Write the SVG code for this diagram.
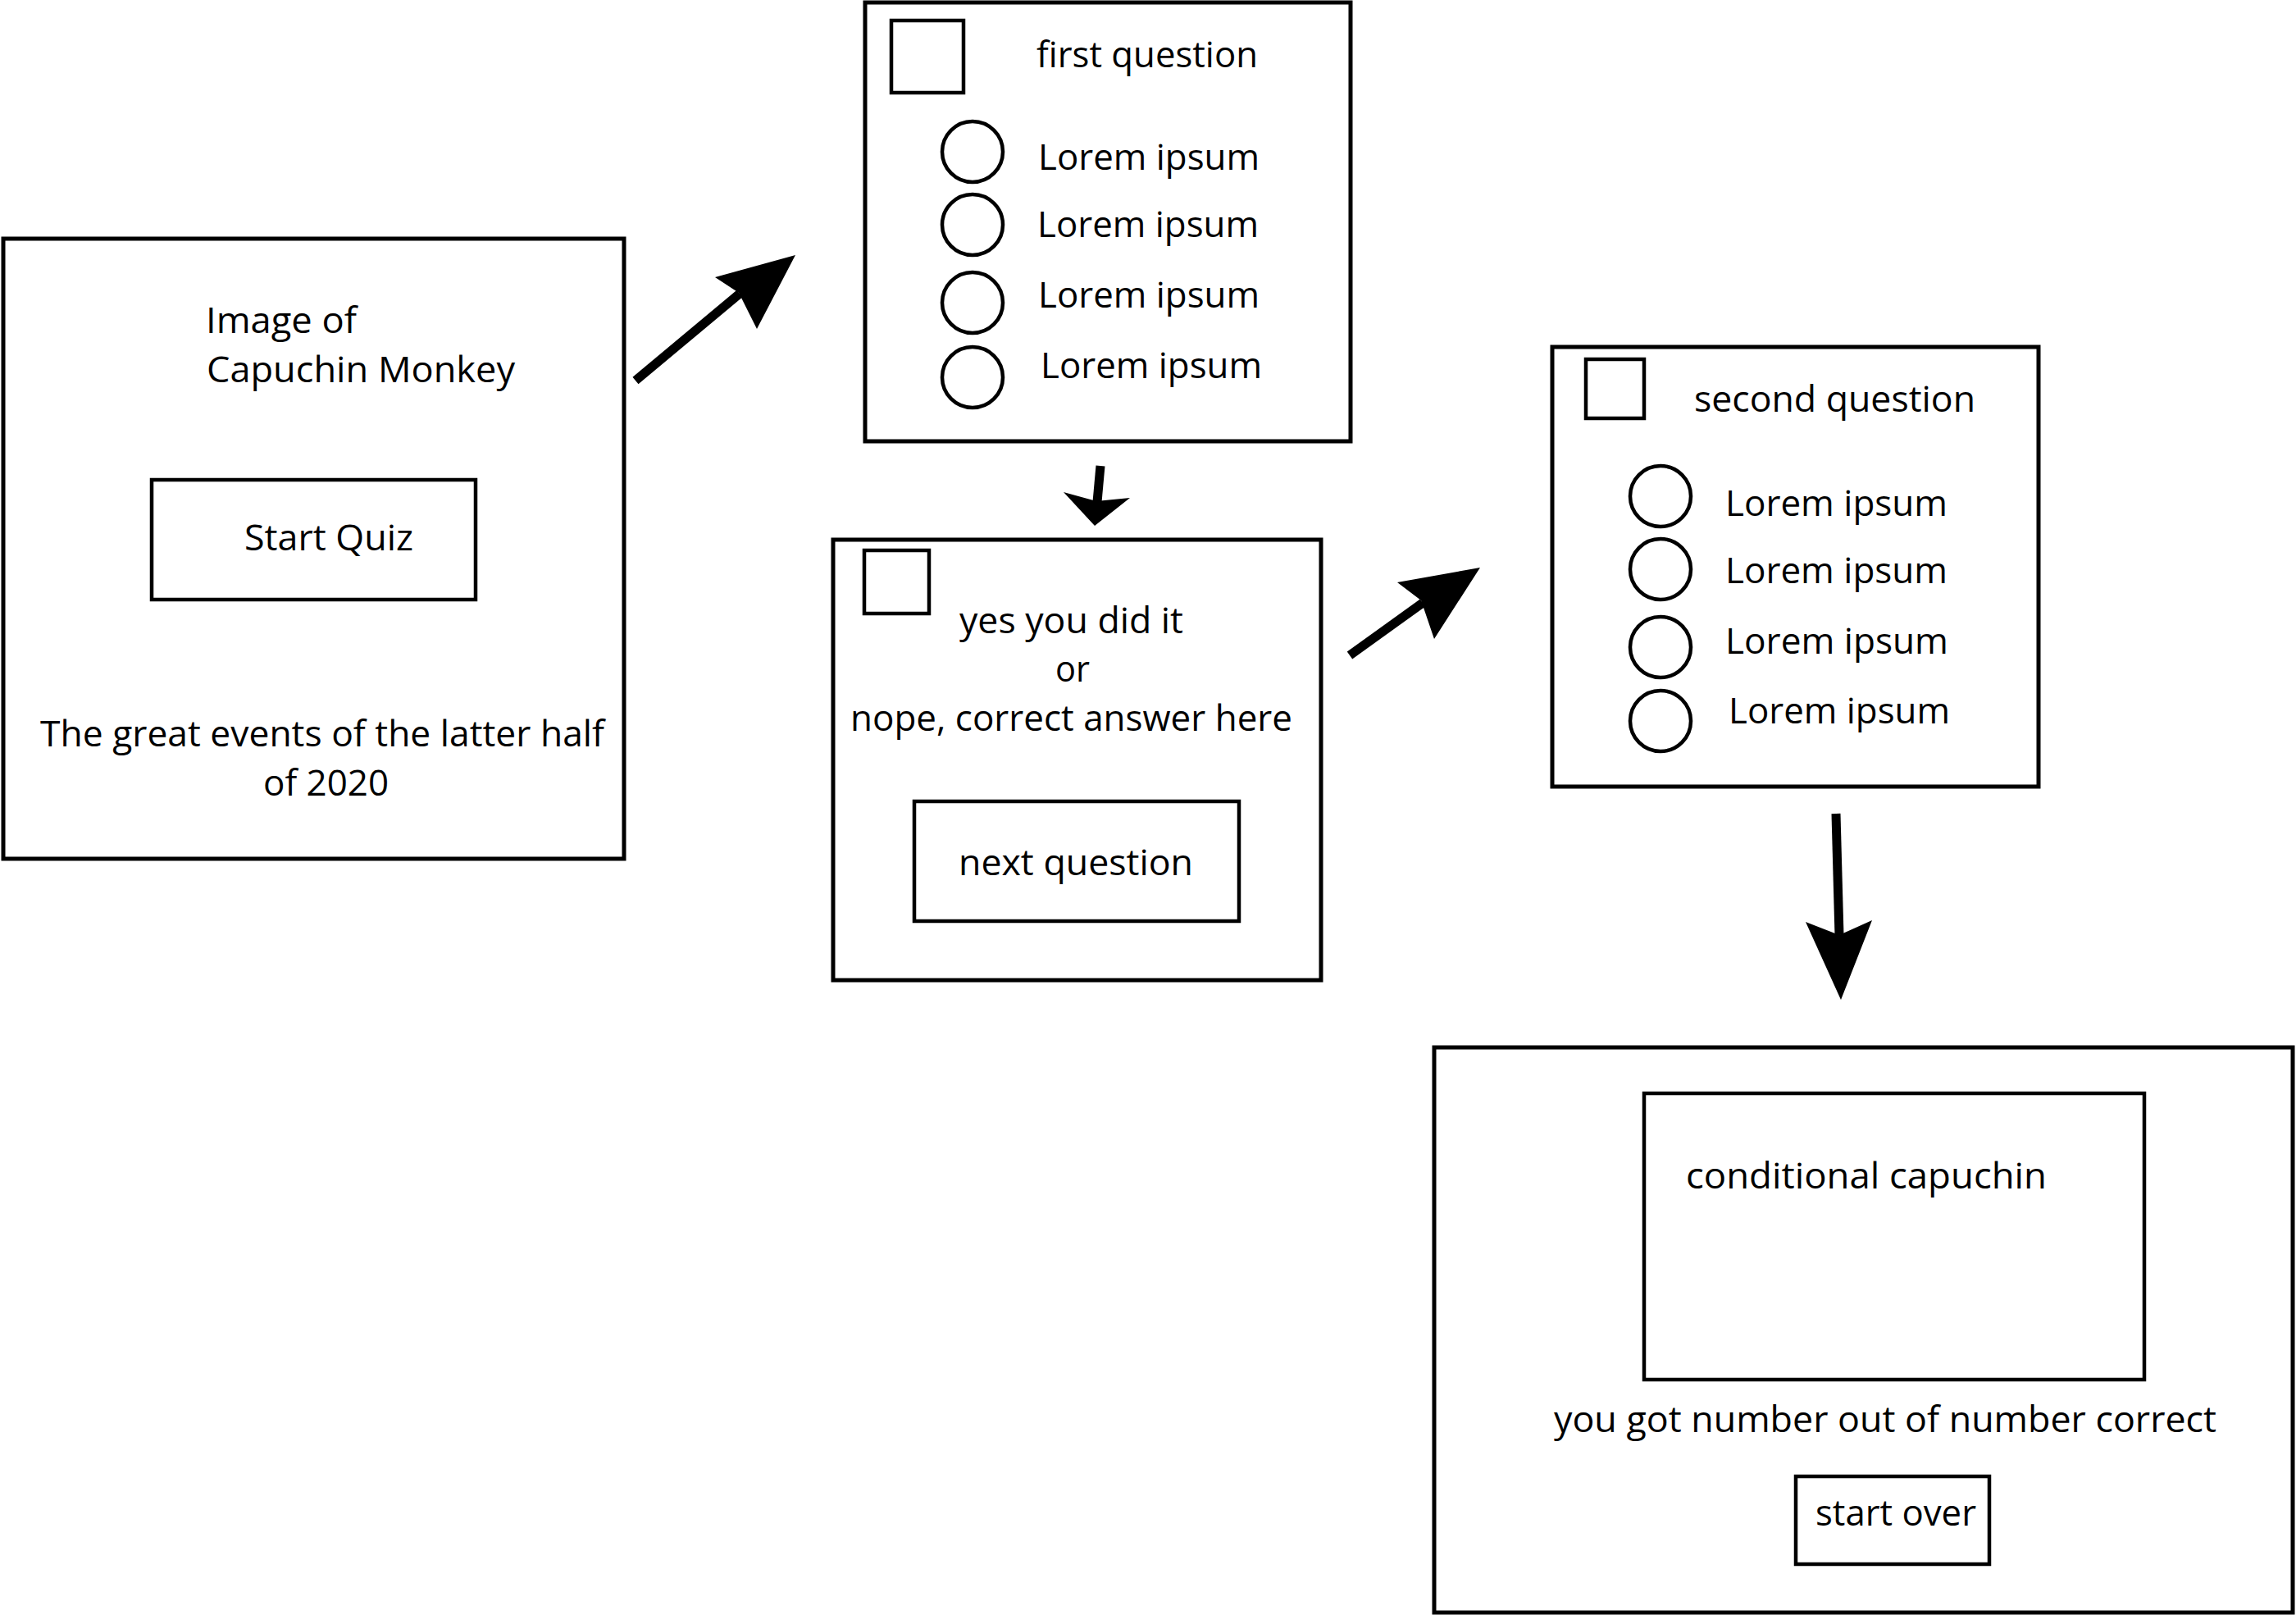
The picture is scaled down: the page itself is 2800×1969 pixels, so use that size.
<svg xmlns="http://www.w3.org/2000/svg" width="2800" height="1969" viewBox="0 0 2800 1969">
<style>
.box{fill:none;stroke:#000;stroke-width:5}
.in{fill:none;stroke:#000;stroke-width:4.5}
.t{font-family:"Open Sans","Noto Sans",sans-serif;font-size:44px;fill:#000}
.shaft{stroke:#000;stroke-width:11;fill:none}
.head{fill:#000;stroke:none}
</style>
<rect width="2800" height="1969" fill="#fff"/>
<g id="start-screen">
<rect class="box" x="4" y="291" width="757" height="756"/>
<text class="t" x="251" y="406" textLength="184" lengthAdjust="spacingAndGlyphs">Image of</text>
<text class="t" x="252" y="466" textLength="376" lengthAdjust="spacingAndGlyphs">Capuchin Monkey</text>
<rect class="in" x="185" y="585" width="395" height="146"/>
<text class="t" x="298" y="671" textLength="206" lengthAdjust="spacingAndGlyphs">Start Quiz</text>
<text class="t" x="49" y="910" textLength="688" lengthAdjust="spacingAndGlyphs">The great events of the latter half</text>
<text class="t" x="321" y="970" textLength="153" lengthAdjust="spacingAndGlyphs">of 2020</text>
</g>
<g id="first-question">
<rect class="box" x="1055" y="3" width="592" height="535"/>
<rect class="in" x="1087" y="25" width="88" height="88"/>
<text class="t" x="1264" y="82" textLength="270" lengthAdjust="spacingAndGlyphs">first question</text>
<circle class="in" cx="1186" cy="185" r="37"/>
<circle class="in" cx="1186" cy="274" r="37"/>
<circle class="in" cx="1186" cy="369" r="37"/>
<circle class="in" cx="1186" cy="460" r="37"/>
<text class="t" x="1266" y="207" textLength="270" lengthAdjust="spacingAndGlyphs">Lorem ipsum</text>
<text class="t" x="1265" y="289" textLength="270" lengthAdjust="spacingAndGlyphs">Lorem ipsum</text>
<text class="t" x="1266" y="375" textLength="270" lengthAdjust="spacingAndGlyphs">Lorem ipsum</text>
<text class="t" x="1269" y="461" textLength="270" lengthAdjust="spacingAndGlyphs">Lorem ipsum</text>
</g>
<g id="answer-feedback">
<rect class="box" x="1016" y="658" width="595" height="537"/>
<rect class="in" x="1054" y="671" width="79" height="77"/>
<text class="t" x="1170" y="772" textLength="273" lengthAdjust="spacingAndGlyphs">yes you did it</text>
<text class="t" x="1287" y="831" textLength="42" lengthAdjust="spacingAndGlyphs">or</text>
<text class="t" x="1037" y="891" textLength="539" lengthAdjust="spacingAndGlyphs">nope, correct answer here</text>
<rect class="in" x="1115" y="977" width="396" height="146"/>
<text class="t" x="1169" y="1067" textLength="286" lengthAdjust="spacingAndGlyphs">next question</text>
</g>
<g id="second-question">
<rect class="box" x="1893" y="423" width="593" height="536"/>
<rect class="in" x="1934" y="438" width="71" height="72"/>
<text class="t" x="2066" y="502" textLength="343" lengthAdjust="spacingAndGlyphs">second question</text>
<circle class="in" cx="2025" cy="605" r="37"/>
<circle class="in" cx="2025" cy="694" r="37"/>
<circle class="in" cx="2025" cy="789" r="37"/>
<circle class="in" cx="2025" cy="879" r="37"/>
<text class="t" x="2104" y="629" textLength="271" lengthAdjust="spacingAndGlyphs">Lorem ipsum</text>
<text class="t" x="2104" y="711" textLength="271" lengthAdjust="spacingAndGlyphs">Lorem ipsum</text>
<text class="t" x="2104" y="797" textLength="272" lengthAdjust="spacingAndGlyphs">Lorem ipsum</text>
<text class="t" x="2108" y="882" textLength="270" lengthAdjust="spacingAndGlyphs">Lorem ipsum</text>
</g>
<g id="results">
<rect class="box" x="1749" y="1277" width="1047" height="689"/>
<rect class="in" x="2005" y="1333" width="610" height="349"/>
<text class="t" x="2056" y="1449" textLength="440" lengthAdjust="spacingAndGlyphs">conditional capuchin</text>
<text class="t" x="1895" y="1746" textLength="808" lengthAdjust="spacingAndGlyphs">you got number out of number correct</text>
<rect class="in" x="2190" y="1800" width="236" height="107"/>
<text class="t" x="2214" y="1860" textLength="196" lengthAdjust="spacingAndGlyphs">start over</text>
</g>
<g id="connectors">
<line class="shaft" x1="775" y1="464" x2="902" y2="358"/>
<polygon class="head" points="970,311 872,338 901,357 923,401"/>
<line class="shaft" x1="1342" y1="568" x2="1338" y2="612"/>
<polygon class="head" points="1335,641 1297,600 1337,611 1378,607"/>
<line class="shaft" x1="1646" y1="799" x2="1735" y2="735"/>
<polygon class="head" points="1805,692 1704,710 1733,732 1749,779"/>
<line class="shaft" x1="2239" y1="992" x2="2243" y2="1140"/>
<polygon class="head" points="2245,1219 2202,1124 2243,1140 2283,1122"/>
</g>
</svg>
